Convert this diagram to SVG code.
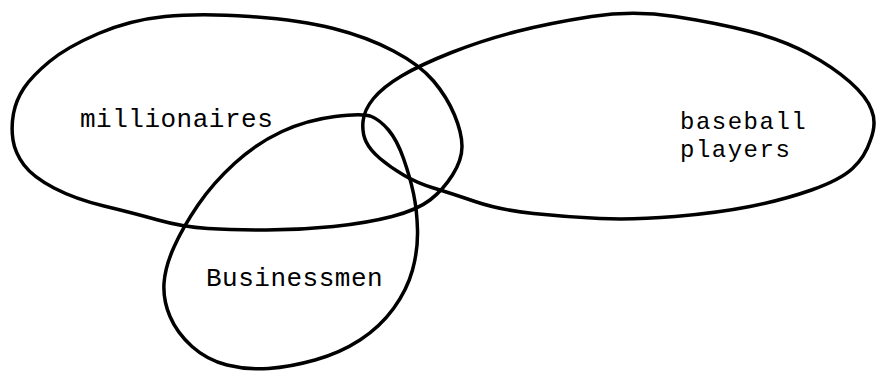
<svg xmlns="http://www.w3.org/2000/svg" width="889" height="373" viewBox="0 0 889 373">
<style>
.set{fill:none;stroke:#000;stroke-width:3.5;stroke-linejoin:round;stroke-linecap:round}
.lbl{font-family:"Liberation Mono","DejaVu Sans Mono",monospace;font-size:26px;letter-spacing:0.5px;fill:#000}
.sm{font-size:24px;letter-spacing:1.5px}
</style>
<rect width="889" height="373" fill="#fff"/>
<g id="millionaires">
<path class="set" d="M 13.5,113.5 Q 16,100 24,88 Q 32,76 49.5,61.5 Q 67,47 98.5,33.5 Q 130,20 165,16.5 Q 200,13 250,16.5 Q 300,20 333.5,28.5 Q 367,37 393.5,51 Q 420,65 433.5,81 Q 447,97 454.5,115 Q 462,133 462,146.5 Q 462,160 452.5,175 Q 443,190 430,200 Q 417,210 392,216.5 Q 367,223 333.5,226.5 Q 300,230 266.5,230 Q 233,230 208,228.5 Q 183,227 158,220 Q 133,213 104,206 Q 75,199 54,188 Q 33,177 24,165 Q 15,153 13,140 Q 11,127 13.5,113.5 Z"/>
<text class="lbl" x="80" y="127">millionaires</text>
</g>
<g id="baseball-players">
<path class="set" d="M 451.5,52.5 Q 483,40 516.5,31.5 Q 550,23 591.5,16.5 Q 633,10 675,16.5 Q 717,23 750,31.5 Q 783,40 808,53.5 Q 833,67 850,82 Q 867,97 871.5,110 Q 877,123 870.5,140 Q 865,157 852.5,168.5 Q 840,180 811.5,190 Q 783,200 750,206.5 Q 717,213 675,216.5 Q 633,220 600,218.5 Q 567,217 533.5,213.5 Q 500,210 475,201.5 Q 450,193 433.5,188 Q 417,183 403.5,175 Q 390,167 380,158.5 Q 370,150 366,141.5 Q 362,133 363,121.5 Q 364,110 373.5,98.5 Q 383,87 401.5,76 Q 420,65 451.5,52.5 Z"/>
<text class="lbl sm" x="680" y="129">baseball</text>
<text class="lbl sm" x="680" y="157">players</text>
</g>
<g id="businessmen">
<path class="set" d="M 371.5,116.5 Q 380,120 388.5,130 Q 397,140 403.5,158.5 Q 410,177 413.5,193.5 Q 417,210 417.5,230 Q 418,250 412.5,270 Q 407,290 393.5,308.5 Q 380,327 360,340 Q 340,353 315,360 Q 290,367 268.5,368.5 Q 247,370 227,365 Q 207,360 192,346.5 Q 177,333 170,316.5 Q 163,300 164,283.5 Q 165,267 174,247 Q 183,227 198,205 Q 213,183 235,163 Q 257,143 282,131.5 Q 307,120 335,116.5 Q 363,113 371.5,116.5 Z"/>
<text class="lbl" x="206" y="286">Businessmen</text>
</g>
<g id="connectors"></g>
</svg>
